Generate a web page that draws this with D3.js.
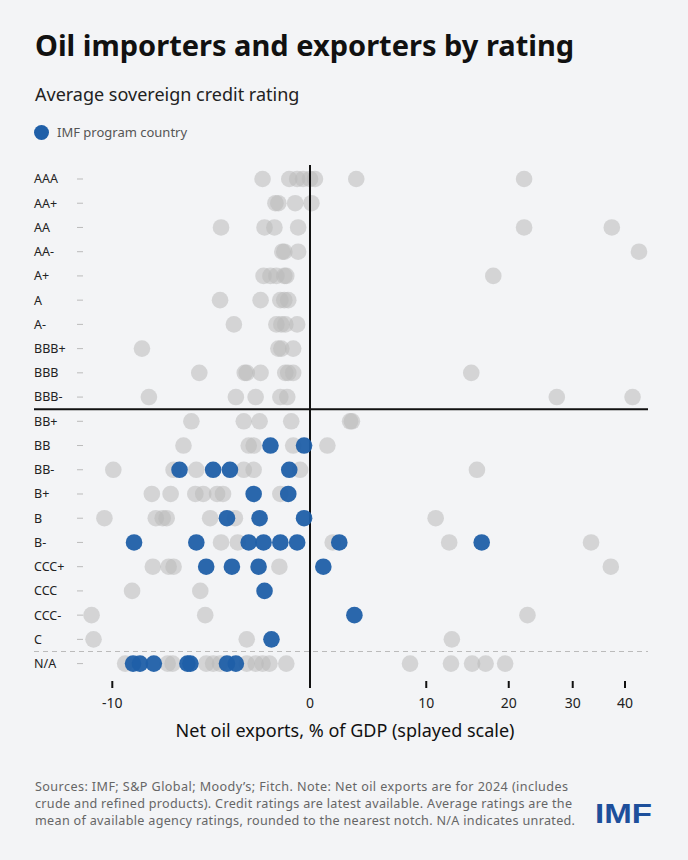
<!DOCTYPE html>
<html>
<head>
<meta charset="utf-8">
<script src="https://cdn.jsdelivr.net/npm/d3@7"></script>
<style>
  html, body { margin: 0; padding: 0; background: #f3f4f6; }
  svg { display: block; font-family: "Noto Sans", "Open Sans", sans-serif; }
</style>
</head>
<body>
<div class="chart"></div>
<script>
// ratings, top to bottom
var ratings = ["AAA","AA+","AA","AA-","A+","A","A-","BBB+","BBB","BBB-",
               "BB+","BB","BB-","B+","B","B-","CCC+","CCC","CCC-","C","N/A"];

// net oil exports (% of GDP) of countries without an IMF program, one list per rating
var otherCountries = [
  [-2.4, -1.05, -0.65, -0.35, 0, 0.35, 3.5, 22.2],
  [-1.75, -1.6, -0.75, 0.1],
  [-4.5, -2.3, -1.8, -0.6, 22.2, 37.3],
  [-1.4, -1.3, -0.6, 43.0],
  [-2.35, -2.0, -1.7, -1.3, -1.2, 17.9],
  [-4.55, -2.5, -1.5, -1.3, -1.1],
  [-3.85, -1.7, -1.45, -1.25, -0.65],
  [-8.5, -1.6, -1.45, -0.85],
  [-5.6, -3.3, -3.2, -2.5, -1.25, -1.1, -0.85, 15.1],
  [-8.15, -3.75, -2.75, -1.5, -1.15, 27.3, 41.6],
  [-6.0, -3.35, -2.55, -0.95, 3.0, 3.15],
  [-6.4, -3.1, -2.85, -0.85, 1.25],
  [-9.95, -6.9, -5.75, -3.35, -2.85, -0.5, 15.8],
  [-8.0, -7.05, -5.8, -5.4, -4.7, -4.4, -1.5],
  [-10.4, -7.8, -7.45, -7.25, -5.05, -3.8, 11.0],
  [-4.5, -3.65, 1.65, 12.5, 33.3],
  [-7.95, -7.15, -6.9, -1.55, 37.1],
  [-9.0, -5.55],
  [-11.05, -5.3, 22.7],
  [-10.95, -3.2, 12.8],
  [-9.35, -7.2, -6.95, -5.25, -4.9, -4.55, -3.2, -2.75, -2.4, -2.05, -1.2, 8.35, 12.7, 15.2, 16.9, 19.5]
];

// IMF program countries, one list per rating
var programCountries = [
  [], [], [], [], [], [], [], [], [], [],
  [],
  [-2.0, -0.3],
  [-6.6, -4.9, -4.05, -1.05],
  [-2.85, -1.1],
  [-4.2, -2.55, -0.3],
  [-8.9, -5.75, -3.1, -2.35, -1.5, -0.65, 2.15, 16.4],
  [-5.25, -3.95, -2.6, 0.95],
  [-2.3],
  [3.35],
  [-1.95],
  [-8.95, -8.6, -7.9, -6.2, -6.05, -4.2, -3.75]
];

var xTicks = [-10, 0, 10, 20, 30, 40];

var footLines = [
  "Sources: IMF; S&P Global; Moody\u2019s; Fitch. Note: Net oil exports are for 2024 (includes",
  "crude and refined products). Credit ratings are latest available. Average ratings are the",
  "mean of available agency ratings, rounded to the nearest notch. N/A indicates unrated."
];

var w = 688, h = 860;
var left = 34, right = 648;
var footWidths = [533, 537, 540];

var svg = d3.select("div.chart")
          .append("svg")
          .attr("width", w)
          .attr("height", h)
          .attr("viewBox", `0 0 ${w} ${h}`);

svg.append("rect").attr("width", w).attr("height", h).attr("fill", "#f3f4f6");

//splayed scale: linear for importers, symlog for exporters
var xNeg = d3.scaleLinear().domain([-10, 0]).range([112.3, 310]);
var xPos = d3.scaleSymlog().constant(20).domain([0, 40]).range([310, 625]);
function x(v){ return v < 0 ? xNeg(v) : xPos(v); }

var y = d3.scalePoint().domain(ratings).range([179, 663.6]);

// title block
svg.append("text")
   .attr("x", 35).attr("y", 56)
   .attr("font-size", 29).attr("font-weight", 700).attr("fill", "#111")
   .text("Oil importers and exporters by rating");

svg.append("text")
   .attr("x", 35).attr("y", 101)
   .attr("font-size", 18).attr("fill", "#222")
   .text("Average sovereign credit rating");

svg.append("circle")
   .attr("cx", 41.5).attr("cy", 132.5).attr("r", 7.5)
   .attr("fill", "#1f5fa8");
svg.append("text")
   .attr("x", 57).attr("y", 137)
   .attr("font-size", 13).attr("fill", "#555")
   .text("IMF program country");

// y labels and tick marks
var rows = svg.append("g");
rows.selectAll("text")
    .data(ratings)
    .enter()
    .append("text")
      .attr("x", left)
      .attr("y", d => y(d))
      .attr("dy", "0.35em")
      .attr("font-size", 12.5)
      .attr("fill", "#222")
      .text(d => d);
rows.selectAll("line")
    .data(ratings)
    .enter()
    .append("line")
      .attr("x1", 77).attr("x2", 83)
      .attr("y1", d => y(d)).attr("y2", d => y(d))
      .attr("stroke", "#bbb");

// investment grade / unrated dividers
svg.append("line")
   .attr("x1", left).attr("x2", right)
   .attr("y1", (y("BBB-") + y("BB+"))/2).attr("y2", (y("BBB-") + y("BB+"))/2)
   .attr("stroke", "#111").attr("stroke-width", 2);
svg.append("line")
   .attr("x1", left).attr("x2", right)
   .attr("y1", (y("C") + y("N/A"))/2).attr("y2", (y("C") + y("N/A"))/2)
   .attr("stroke", "#bbb").attr("stroke-width", 1.2)
   .attr("stroke-dasharray", "5,4");

// dots
var greyDots = [];
otherCountries.forEach(function(vals, i){
    vals.forEach(function(v){ greyDots.push({rating: ratings[i], value: v}); });
});
var blueDots = [];
programCountries.forEach(function(vals, i){
    vals.forEach(function(v){ blueDots.push({rating: ratings[i], value: v}); });
});

svg.append("g").selectAll("circle")
   .data(greyDots)
   .enter()
   .append("circle")
     .attr("cx", d => x(d.value))
     .attr("cy", d => y(d.rating))
     .attr("r", 8.3)
     .attr("fill", "#b9b9b9")
     .attr("fill-opacity", 0.55);

// zero line
svg.append("line")
   .attr("x1", x(0)).attr("x2", x(0))
   .attr("y1", 165).attr("y2", 688)
   .attr("stroke", "#111").attr("stroke-width", 2);

svg.append("g").selectAll("circle")
   .data(blueDots)
   .enter()
   .append("circle")
     .attr("cx", d => x(d.value))
     .attr("cy", d => y(d.rating))
     .attr("r", 8.3)
     .attr("fill", "#1f5fa8")
     .attr("fill-opacity", 0.95);

// x axis
var axis = svg.append("g");
axis.selectAll("line")
    .data(xTicks.filter(d => d != 0))
    .enter()
    .append("line")
      .attr("x1", d => x(d)).attr("x2", d => x(d))
      .attr("y1", 681).attr("y2", 688)
      .attr("stroke", "#111").attr("stroke-width", 2);
axis.selectAll("text")
    .data(xTicks)
    .enter()
    .append("text")
      .attr("x", d => x(d))
      .attr("y", 708)
      .attr("text-anchor", "middle")
      .attr("font-size", 14)
      .attr("fill", "#222")
      .text(d => d);

svg.append("text")
   .attr("x", 345).attr("y", 737)
   .attr("text-anchor", "middle")
   .attr("font-size", 18).attr("fill", "#111")
   .text("Net oil exports, % of GDP (splayed scale)");

// footer
svg.append("g").selectAll("text")
   .data(footLines)
   .enter()
   .append("text")
     .attr("x", 35)
     .attr("y", (d, i) => 791 + i*17.2)
     .attr("font-size", 12.6)
     .attr("fill", "#666")
     .attr("textLength", (d, i) => footWidths[i])
     .attr("lengthAdjust", "spacing")
     .text(d => d);

svg.append("text")
   .attr("x", 595).attr("y", 823)
   .attr("font-family", "'Liberation Sans', Arial, sans-serif")
   .attr("font-size", 28).attr("font-weight", 700)
   .attr("fill", "#1d4f9b")
   .attr("textLength", 57).attr("lengthAdjust", "spacingAndGlyphs")
   .text("IMF");
</script>
</body>
</html>
